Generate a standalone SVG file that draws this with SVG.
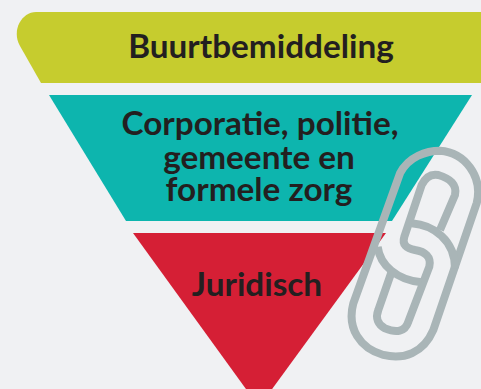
<svg xmlns="http://www.w3.org/2000/svg" width="481" height="389" viewBox="0 0 481 389">
<style>
.t{font-family:Lato,"Noto Sans",sans-serif;font-weight:700;font-size:33.3px;fill:#231f20;text-anchor:middle}
.l{fill:none;stroke:#a9b5b7;stroke-width:24;stroke-linecap:butt;stroke-linejoin:round}
</style>
<rect width="481" height="389" fill="#f0f1f3"/>
<g id="node-buurtbemiddeling">
<path d="M481 12H36C22 12 11 30 20 46L41 83H481Z" fill="#c6cc2e"/>
<text class="t" x="261" y="57.500">Buurtbemiddeling</text>
</g>
<g id="node-corporatie">
<path d="M49 95H472L392 221H126Z" fill="#0db5ae"/>
<text class="t" x="260" y="135">Corporatie, politie,</text>
<text class="t" x="259" y="168.500">gemeente en</text>
<text class="t" x="259" y="201">formele zorg</text>
</g>
<g id="node-juridisch">
<path d="M133 233H386L259 407Z" fill="#d51f35"/>
<text class="t" x="257" y="296">Juridisch</text>
</g>
<g id="node-link" transform="translate(340 140) scale(.3333)">
<path class="l" d="M180 100C205 50 260 32 300 32C375 37 430 110 410 190L280 570C250 640 190 660 130 645C60 625 20 565 40 490Z"/>
<path class="l" d="M300 270L345 165C352 135 330 115 295 105C270 100 255 115 245 135L193 290C185 315 200 325 225 330C255 335 275 350 268 380L205 545C195 575 170 580 135 565C115 555 105 535 115 510L155 395"/>
<path class="l" d="M215 250C280 255 345 300 345 385"/>
<path class="l" d="M113 320C120 375 170 420 245 427"/>
</g>
</svg>
